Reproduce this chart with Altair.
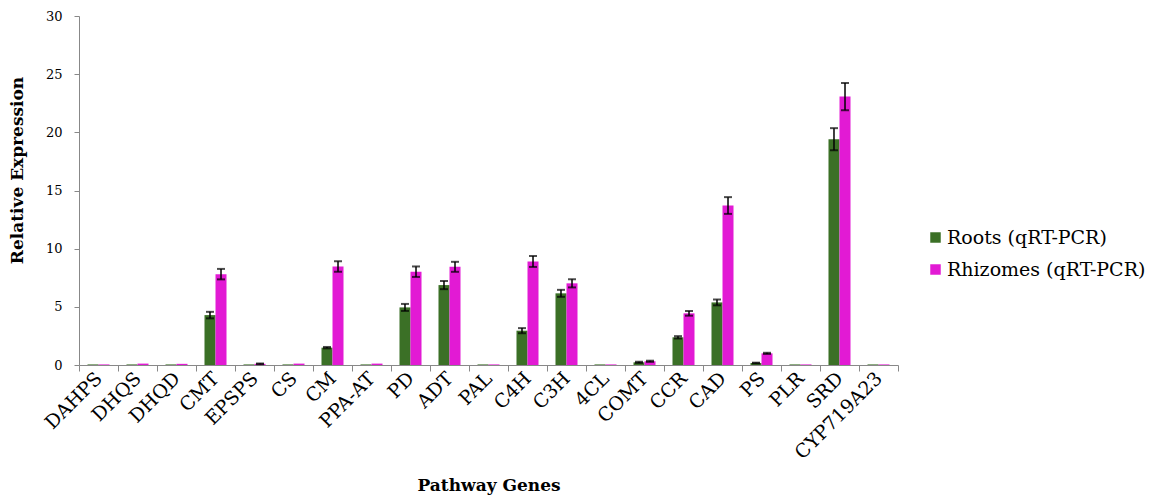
import altair as alt
import pandas as pd

genes = ["DAHPS", "DHQS", "DHQD", "CMT", "EPSPS", "CS", "CM", "PPA-AT", "PD", "ADT",
         "PAL", "C4H", "C3H", "4CL", "COMT", "CCR", "CAD", "PS", "PLR", "SRD", "CYP719A23"]
roots = [0.05, 0.05, 0.05, 4.29, 0.05, 0.05, 1.49, 0.05, 4.95, 6.87,
         0.05, 2.95, 6.16, 0.05, 0.23, 2.38, 5.38, 0.17, 0.05, 19.41, 0.05]
roots_err = [0, 0, 0, 0.28, 0, 0, 0.06, 0, 0.30, 0.35,
             0, 0.22, 0.30, 0, 0.05, 0.10, 0.25, 0.03, 0, 0.95, 0]
rhizomes = [0.05, 0.12, 0.10, 7.81, 0.10, 0.12, 8.47, 0.12, 8.02, 8.44,
            0.05, 8.90, 7.02, 0.05, 0.32, 4.44, 13.71, 1.00, 0.05, 23.07, 0.05]
rhizomes_err = [0, 0, 0, 0.45, 0.03, 0, 0.45, 0, 0.45, 0.43,
                0, 0.47, 0.35, 0, 0.05, 0.20, 0.72, 0.05, 0, 1.17, 0]

series = ["Roots (qRT-PCR)", "Rhizomes (qRT-PCR)"]
colors = ["#3b7026", "#e21ad4"]

rows = []
for g, v, e in zip(genes, roots, roots_err):
    rows.append({"gene": g, "series": series[0], "value": v, "lo": v - e, "hi": v + e, "err": e})
for g, v, e in zip(genes, rhizomes, rhizomes_err):
    rows.append({"gene": g, "series": series[1], "value": v, "lo": v - e, "hi": v + e, "err": e})
df = pd.DataFrame(rows)

FONT = "DejaVu Serif"

x = alt.X("gene:N", sort=genes, title="Pathway Genes",
          scale=alt.Scale(paddingInner=0, paddingOuter=0),
          axis=alt.Axis(labelAngle=-45, labelAlign="right", labelBaseline="middle",
                        labelFont=FONT, labelFontSize=19, labelColor="#000000",
                        labelPadding=4, tickBand="extent", tickSize=6, tickColor="#888888",
                        domainColor="#888888", titleFont=FONT, titleFontSize=17,
                        titleFontWeight="bold", titleColor="#000000",
                        titleY=112, titleBaseline="top"))
xoff = alt.XOffset("series:N", sort=series,
                   scale=alt.Scale(paddingInner=0, paddingOuter=0.77))
y = alt.Y("value:Q", title="Relative Expression",
          scale=alt.Scale(domain=[0, 30], nice=False),
          axis=alt.Axis(values=[0, 5, 10, 15, 20, 25, 30], grid=False,
                        labelFont=FONT, labelFontSize=13, labelColor="#000000",
                        labelPadding=12, tickSize=5, tickColor="#888888",
                        domainColor="#888888", titleFont=FONT, titleFontSize=17,
                        titleFontWeight="bold", titleColor="#000000",
                        titleX=-53, titleY=154))

color = alt.Color("series:N", sort=series, title=None,
                  scale=alt.Scale(domain=series, range=colors),
                  legend=alt.Legend(orient="none", legendX=847, legendY=212,
                                    symbolType="square", symbolSize=110,
                                    symbolStrokeWidth=0, rowPadding=12,
                                    labelFont=FONT, labelFontSize=19, labelLimit=400,
                                    labelColor="#000000", labelOffset=2))

bars = alt.Chart(df).mark_bar(size=11).encode(x=x, xOffset=xoff, y=y, color=color)

err = df[df["err"] > 0]
stems = alt.Chart(err).mark_rule(color="#000000", strokeWidth=1.5).encode(
    x=alt.X("gene:N", sort=genes), xOffset=xoff,
    y="lo:Q", y2="hi:Q")
caps_hi = alt.Chart(err).mark_tick(color="#000000", thickness=2, size=8).encode(
    x=alt.X("gene:N", sort=genes), xOffset=xoff, y="hi:Q")
caps_lo = alt.Chart(err).mark_tick(color="#000000", thickness=2, size=8).encode(
    x=alt.X("gene:N", sort=genes), xOffset=xoff, y="lo:Q")

chart = alt.layer(bars, stems, caps_hi, caps_lo).properties(
    width=819, height=349,
    background="#ffffff",
    autosize=alt.AutoSizeParams(type="none"),
    padding={"left": 79, "top": 16, "right": 270, "bottom": 132},
).configure_view(stroke="transparent", strokeWidth=0)

chart.save("out.html", embed_options={"renderer": "svg", "actions": False})
